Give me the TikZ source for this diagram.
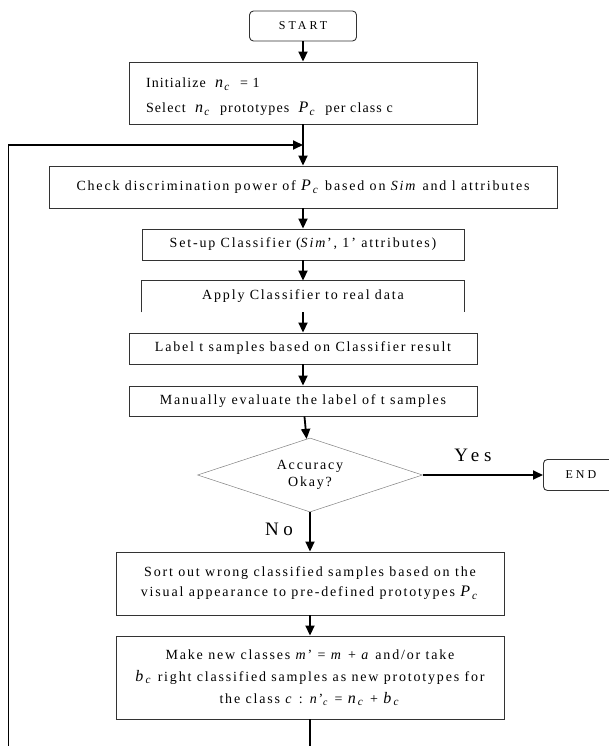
\documentclass[tikz,border=0pt]{standalone}
\usepackage{fontspec}
\setmainfont[LetterSpace=13]{Liberation Serif}
\newfontfamily\widefont[LetterSpace=25]{Liberation Serif}
\newfontfamily\initfont[LetterSpace=8]{Liberation Serif}
\usetikzlibrary{arrows.meta,shapes.geometric}

\newcommand{\sym}[2]{{\fontsize{16}{16}\selectfont\textit{#1}\textsubscript{\textit{#2}}}}

\begin{document}
\begin{tikzpicture}[x=1pt, y=-1pt,
    box/.style={draw=black!80, line width=0.9pt, rectangle, inner sep=0pt, align=center,
      font=\fontsize{14}{17}\selectfont},
    term/.style={box, rounded corners=4pt, font=\widefont\fontsize{12}{14}\selectfont},
    decision/.style={diamond, aspect=3, draw=gray, line width=0.5pt, inner sep=0pt, align=center,
      minimum width=225pt, minimum height=74pt, font=\fontsize{14}{17}\selectfont},
    answer/.style={font=\widefont\fontsize{19}{22}\selectfont},
    flow/.style={line width=1.8pt, -{Triangle[length=10pt,width=9pt]}}]
    \useasboundingbox (0,0) rectangle (608,746);

    \node[term, minimum width=107pt, minimum height=30pt] (start) at (303,26) {START};
    \node[box, minimum width=348pt, minimum height=62pt, text width=314pt, align=left,
        font=\initfont\fontsize{14}{17}\selectfont] (init) at (303,93)
        {\rule{0pt}{17pt}Initialize\ \ \sym{n}{c}\ \ = 1\\[8pt]Select\ \ \sym{n}{c}\ \ prototypes\ \ \sym{P}{c}\ \ per class c};
    \coordinate (loopin) at (303,145);
    \node[box, minimum width=508pt, minimum height=42pt] (check) at (303,187)
        {Check discrimination power of \sym{P}{c} based on \textit{Sim} and l attributes};
    \node[box, minimum width=322pt, minimum height=31pt] (setup) at (303,244.5)
        {Set-up Classifier (\textit{Sim}', 1' attributes)};
    \node[box, draw=none, minimum width=322pt, minimum height=31pt] (apply) at (303,296.5)
        {Apply Classifier to real data};
    \draw[draw=black!80, line width=0.9pt] (apply.south west) |- (apply.north east) -- (apply.south east);
    \node[box, minimum width=348pt, minimum height=31pt] (label) at (303,348.5)
        {Label t samples based on Classifier result};
    \node[box, minimum width=348pt, minimum height=30pt] (manual) at (303,401)
        {Manually evaluate the label of t samples};
    \node[decision] (dec) at (310,475) {Accuracy\\Okay?};
    \node[term, anchor=west, minimum width=75pt, minimum height=31pt] (end) at (543,475) {END};
    \node[answer] (yes) at (473,455) {Yes};
    \node[answer] (no) at (279,529) {No};
    \node[box, minimum width=388pt, minimum height=63pt] (sort) at (310,583.5)
        {Sort out wrong classified samples based on the\\[3pt]visual appearance to pre-defined prototypes \sym{P}{c}};
    \node[box, minimum width=388pt, minimum height=83pt] (make) at (310,677.5)
        {Make new classes \textit{m}' = \textit{m} + \textit{a} and/or take\\[5pt]
         \sym{b}{c} right classified samples as new prototypes for\\[5pt]
         the class \textit{c} : \textit{n}'\textsubscript{\textit{c}} = \sym{n}{c} + \sym{b}{c}};

    \draw[flow] (start) -- (init);
    \draw[flow] (init) -- (check);
    \draw[flow] (check) -- (setup);
    \draw[flow] (setup) -- (apply);
    \draw[flow] (apply) -- (label);
    \draw[flow] (label) -- (manual);
    \draw[flow] (manual) -- (dec);
    \draw[flow] (dec) -- (end);
    \draw[flow] (dec) -- (sort);
    \draw[flow] (sort) -- (make);
    \draw[flow] (make.south) -- ++(0,45) -| (8.5,145) -- (loopin);
\end{tikzpicture}
\end{document}
